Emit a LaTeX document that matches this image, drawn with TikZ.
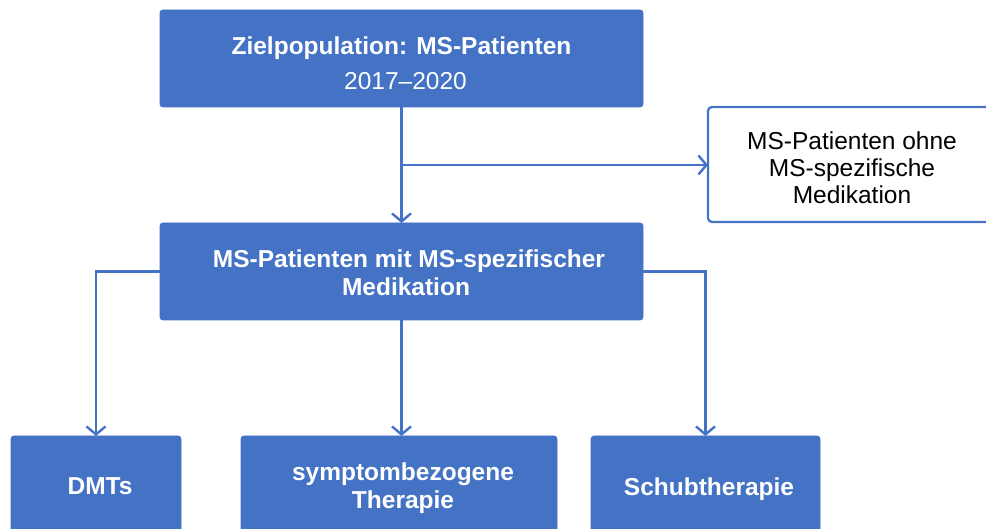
\documentclass[tikz,border=0pt]{standalone}
\usepackage{fontspec}
\setmainfont{Liberation Sans}
\usetikzlibrary{arrows.meta,calc}
\definecolor{msblue}{HTML}{4472C4}
\tikzset{
  bluebox/.style={draw=msblue, fill=msblue, line width=0.8pt, rounded corners=3pt, inner sep=0pt, outer sep=0pt,
    text=white, font=\fontsize{24.5}{27}\selectfont\bfseries, align=center},
  whitebox/.style={draw=msblue, fill=white, line width=2.2pt, rounded corners=4pt, inner sep=0pt, outer sep=0pt},
  boxtext/.style={text=white, font=\fontsize{24.5}{28}\selectfont\bfseries, align=center, inner sep=0pt},
  plaintext/.style={text=black, font=\fontsize{24.5}{27}\selectfont, align=center, inner sep=0pt},
  conn/.style={draw=msblue, line width=2.4pt, -{Straight Barb[length=8pt,width=19pt,line width=2.4pt]}},
}
\begin{document}
\begin{tikzpicture}[x=1pt,y=-1pt]
\useasboundingbox (0,0) rectangle (986,529);
% boxes
\node[bluebox, minimum width=483pt, minimum height=97pt] (top) at (401.5,58.5) {};
\node[boxtext] (toptxt) at (401.5,63.5) {Zielpopulation: MS-Patienten\\[7pt]\mdseries\hspace*{8pt}2017–2020};
\node[whitebox, minimum width=288pt, minimum height=115pt] (right) at (852,164.5) {};
\node[plaintext] (righttxt) at (852,168) {MS-Patienten ohne\\MS-spezifische\\Medikation};
\node[bluebox, minimum width=483pt, minimum height=97pt] (mid) at (401.5,271.5) {};
\node[boxtext] (midtxt) at (409,272.5) {MS-Patienten mit MS-spezifischer\\\hspace*{-6pt}Medikation};
\node[bluebox, minimum width=170pt, minimum height=100pt] (dmt) at (96,486) {};
\node[boxtext] (dmttxt) at (100,486) {DMTs};
\node[bluebox, minimum width=316pt, minimum height=100pt] (sym) at (399,486) {};
\node[boxtext] (symtxt) at (403,488) {symptombezogene\\Therapie};
\node[bluebox, minimum width=229pt, minimum height=100pt] (schub) at (705.5,486) {};
\node[boxtext] (schubtxt) at (709,489) {Schubtherapie};
% connectors
\coordinate (br) at ($(top.south)!0.5!(mid.north)$);
\draw[conn] (top.south) -- (mid.north);
\draw[conn] (br) -- (br -| right.west);
\draw[conn] (mid.west) -| (dmt.north);
\draw[conn] (mid.south) -- (mid.south |- sym.north);
\draw[conn] (mid.east) -| (schub.north);
\end{tikzpicture}
\end{document}
